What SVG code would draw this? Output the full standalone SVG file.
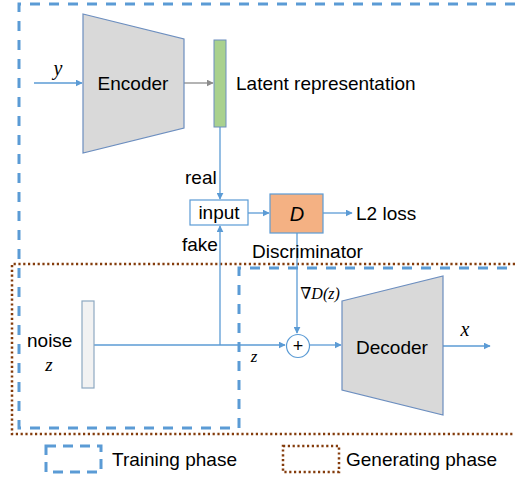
<svg xmlns="http://www.w3.org/2000/svg" width="515" height="479" viewBox="0 0 515 479">
<style>
.t{font-family:"Liberation Sans","Open Sans",sans-serif;font-size:19px;fill:#000}
.m{font-family:"Liberation Serif","DejaVu Serif",serif;font-style:italic;fill:#000}
.c{stroke:#5b9bd5;stroke-width:1.3;fill:none}
.train{stroke:#5b9bd5;stroke-width:3;fill:none;stroke-dasharray:10 9}
.gen{stroke:#843c0c;stroke-width:2.5;fill:none;stroke-dasharray:2.2 2.6}
</style>
<defs>
<marker id="a" viewBox="0 0 10 10" refX="9" refY="5" markerWidth="7" markerHeight="7" markerUnits="userSpaceOnUse" orient="auto"><path d="M0,0 L10,5 L0,10 z" fill="#5b9bd5"/></marker>
<marker id="g" viewBox="0 0 10 10" refX="9" refY="5" markerWidth="7" markerHeight="7" markerUnits="userSpaceOnUse" orient="auto"><path d="M0,0 L10,5 L0,10 z" fill="#8c8c8c"/></marker>
</defs>
<rect width="515" height="479" fill="#fff"/>
<g id="regions">
<path class="train" d="M515,4 H19 V428 H239 V268 H515"/>
<path class="gen" d="M515,264 H12 V434 H515"/>
</g>
<g id="connectors">
<line class="c" x1="34" y1="83" x2="82" y2="83" marker-end="url(#a)"/>
<line x1="184" y1="83" x2="213" y2="83" stroke="#8c8c8c" stroke-width="1.3" marker-end="url(#g)"/>
<line class="c" x1="220" y1="127" x2="220" y2="199" marker-end="url(#a)"/>
<line class="c" x1="248" y1="213" x2="269" y2="213" marker-end="url(#a)"/>
<line class="c" x1="323" y1="213" x2="352" y2="213" marker-end="url(#a)"/>
<line class="c" x1="94" y1="345" x2="220" y2="345"/>
<line class="c" x1="220" y1="345" x2="220" y2="226" marker-end="url(#a)"/>
<line class="c" x1="220" y1="345" x2="285" y2="345" marker-end="url(#a)"/>
<line class="c" x1="297" y1="233" x2="297" y2="333" marker-end="url(#a)"/>
<line class="c" x1="309" y1="345" x2="341" y2="345" marker-end="url(#a)"/>
<line class="c" x1="443" y1="346" x2="490" y2="346" marker-end="url(#a)"/>
</g>
<g id="encoder">
<polygon points="83,14 184,39 184,128 83,153" fill="#d9d9d9" stroke="#6c8ebf" stroke-width="1.2"/>
<text class="t" x="133" y="90" text-anchor="middle" font-size="20">Encoder</text>
</g>
<g id="latent">
<rect x="214" y="40" width="12" height="87" fill="#a9d18e" stroke="#6c8ebf" stroke-width="1"/>
<text class="t" x="236" y="90" font-size="20">Latent representation</text>
</g>
<g id="input">
<rect x="190" y="200" width="58" height="25" fill="#fff" stroke="#5b9bd5" stroke-width="1.2"/>
<text class="t" x="219" y="219" text-anchor="middle">input</text>
</g>
<g id="discriminator">
<rect x="270" y="194" width="53" height="39" fill="#f4b183" stroke="#5b9bd5" stroke-width="1.2"/>
<text x="297" y="221" text-anchor="middle" font-size="20" font-style="italic" font-family="Liberation Sans,sans-serif">D</text>
<text class="t" x="252" y="258">Discriminator</text>
</g>
<g id="plus">
<circle cx="298" cy="346" r="11.5" fill="#fff" stroke="#5b9bd5" stroke-width="1.2"/>
<text x="298" y="352" text-anchor="middle" font-family="Liberation Sans,sans-serif" font-size="18">+</text>
</g>
<g id="noise">
<rect x="82" y="301" width="12" height="87" fill="#f2f2f2" stroke="#8ea9c1" stroke-width="1.2"/>
<text class="t" x="27" y="347" font-size="19">noise</text>
<text class="m" x="49" y="371" text-anchor="middle" font-size="19">z</text>
</g>
<g id="decoder">
<polygon points="342,301 443,276 443,415 342,390" fill="#d9d9d9" stroke="#6c8ebf" stroke-width="1.2"/>
<text class="t" x="392" y="354" text-anchor="middle" font-size="20">Decoder</text>
</g>
<g id="labels">
<text class="m" x="58" y="75" text-anchor="middle" font-size="20">y</text>
<text class="t" x="185" y="184">real</text>
<text class="t" x="182" y="251">fake</text>
<text class="t" x="356" y="220">L2 loss</text>
<text class="m" x="320" y="299" text-anchor="middle" font-size="16">∇D(z)</text>
<text class="m" x="254" y="362" text-anchor="middle" font-size="17">z</text>
<text class="m" x="465" y="336" text-anchor="middle" font-size="20">x</text>
</g>
<g id="legend">
<rect class="train" x="46" y="446" width="55" height="26" stroke-width="2.5" style="stroke-dasharray:10 7"/>
<text class="t" x="112" y="466">Training phase</text>
<rect class="gen" x="283" y="446" width="56" height="26"/>
<text class="t" x="346" y="466">Generating phase</text>
</g>
</svg>
